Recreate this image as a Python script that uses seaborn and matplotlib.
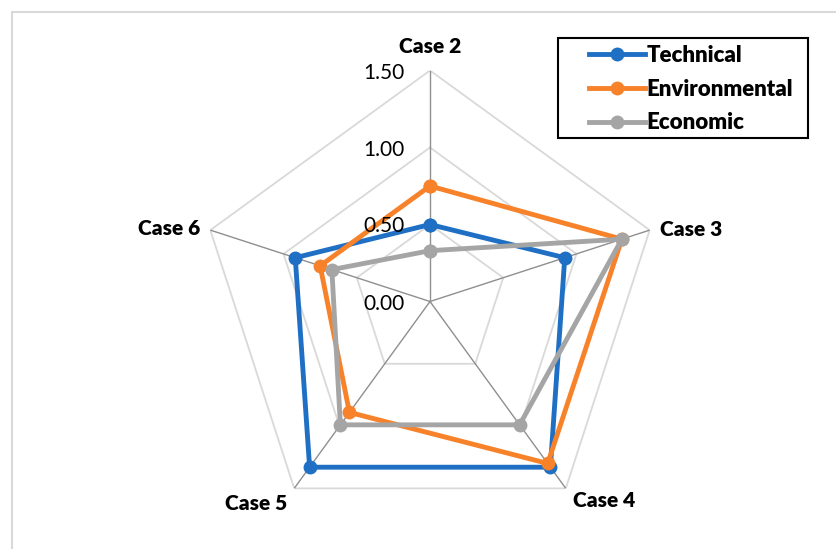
import numpy as np
import pandas as pd
import matplotlib
matplotlib.use("Agg")
import matplotlib.pyplot as plt
from matplotlib.patches import Rectangle
import seaborn as sns

# Scores per case for each criterion
categories = ["Case 2", "Case 3", "Case 4", "Case 5", "Case 6"]
technical = [0.50, 0.92, 1.33, 1.33, 0.92]
environmental = [0.75, 1.31, 1.30, 0.89, 0.75]
economic = [0.33, 1.31, 0.99, 0.99, 0.67]
series_names = ["Technical", "Environmental", "Economic"]
tick_values = [0.0, 0.5, 1.0, 1.5]
tick_labels = ["0.00", "0.50", "1.00", "1.50"]

colors = {"Technical": "#1f6fc4", "Environmental": "#f7822a", "Economic": "#a5a5a5"}
FONT = ["Lato", "DejaVu Sans"]

n = len(categories)
theta = np.linspace(0, 2 * np.pi, n, endpoint=False)
theta_closed = np.append(theta, 2 * np.pi)

rows = []
for name, vals in zip(series_names, [technical, environmental, economic]):
    closed = list(vals) + [vals[0]]
    for t, v in zip(theta_closed, closed):
        rows.append({"theta": t, "score": v, "criterion": name})
df = pd.DataFrame(rows)

W, H = 837, 549
fig = plt.figure(figsize=(W / 100, H / 100), dpi=100)
fig.patch.set_facecolor("white")

# radar area: centre (430, 301.5) px, outer ring radius 231 px
cx, cy, R = 430, 301.5, 231
ax = fig.add_axes([(cx - R) / W, (H - cy - R) / H, 2 * R / W, 2 * R / H],
                  projection="polar")
ax.set_theta_offset(np.pi / 2)
ax.set_theta_direction(-1)
ax.patch.set_alpha(0)
ax.spines["polar"].set_visible(False)
ax.grid(False)

# pentagon rings and spokes
for r in tick_values[1:]:
    ax.plot(theta_closed, [r] * len(theta_closed), color="#d9d9d9", lw=1.3, zorder=1)
for t in theta:
    ax.plot([t, t], [0, tick_values[-1]], color="#8f8f8f", lw=1.0, zorder=1)

sns.lineplot(data=df, x="theta", y="score", hue="criterion", hue_order=series_names,
             palette=colors, sort=False, estimator=None, marker="o", markersize=10,
             markeredgewidth=0, linewidth=3.5, ax=ax, legend=False, zorder=3)

ax.set_ylim(0, tick_values[-1])
ax.set_xticks([])
ax.set_yticks([])
ax.set_xlabel("")
ax.set_ylabel("")

# radial value labels along the top spoke
for v, lab in zip(tick_values, tick_labels):
    ax.annotate(lab, xy=(0, v), xytext=(-25, 0), textcoords="offset pixels",
                ha="right", va="center_baseline", fontsize=15, family=FONT,
                color="#000000")

# category labels at the outer vertices
offsets = [(0, 26, "center"), (10, 2, "left"), (7, -11, "left"),
           (-7, -14, "right"), (-10, 3, "right")]
for t, lab, (dx, dy, ha) in zip(theta, categories, offsets):
    ax.annotate(lab, xy=(t, tick_values[-1]), xytext=(dx, dy),
                textcoords="offset pixels", ha=ha, va="center_baseline",
                fontsize=15, fontweight="heavy", family=FONT, annotation_clip=False)

# legend entries, with a separate frame around them
handles = [plt.Line2D([], [], color=colors[s], lw=3.5, marker="o", markersize=10,
                      markeredgewidth=0) for s in series_names]
leg = fig.legend(handles, series_names, loc="upper left",
                 bbox_to_anchor=(589 / W, 1 - 45 / H), frameon=False,
                 borderaxespad=0, borderpad=0, handlelength=2.5, handletextpad=0.1,
                 labelspacing=0.57,
                 prop={"family": FONT, "weight": "heavy", "size": 16})
fig.patches.append(Rectangle((558 / W, 1 - 138 / H), 250 / W, 100 / H,
                             transform=fig.transFigure, fill=False,
                             edgecolor="black", lw=1.5, zorder=5))

# chart area border
fig.patches.append(Rectangle((12.5 / W, -0.1), 1.0, 1.1 - 12.5 / H,
                             transform=fig.transFigure, fill=False,
                             edgecolor="#d9d9d9", lw=1.5))

fig.savefig("out.png", dpi=100)
